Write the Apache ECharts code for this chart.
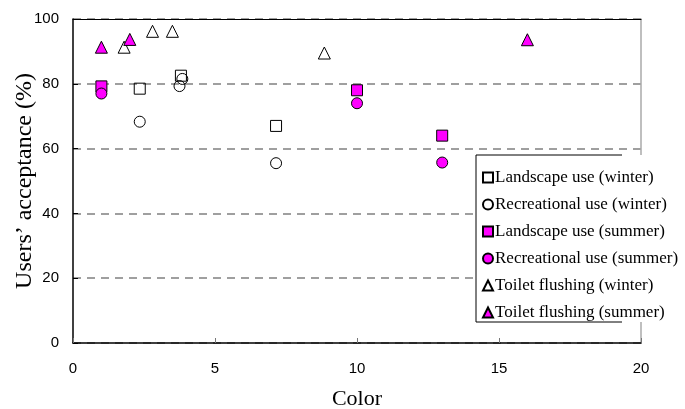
<!DOCTYPE html>
<html>
<head>
<meta charset="utf-8">
<script src="https://cdn.jsdelivr.net/npm/echarts@6/dist/echarts.min.js"></script>
<style>
  html, body { margin: 0; padding: 0; background: #fff; }
  #chart { width: 685px; height: 409px; }
</style>
</head>
<body>
<div id="chart"></div>
<script>
// Users' acceptance (%) against color, per reuse type and season
const landscapeWinter    = [[2.35, 78.5], [3.8, 82.5], [7.15, 67]];
const recreationalWinter = [[2.35, 68.3], [3.85, 81.5], [3.75, 79.3], [7.15, 55.5]];
const landscapeSummer    = [[1.0, 79.2], [10.0, 78.0], [13.0, 64.0]];
const recreationalSummer = [[1.0, 77.0], [10.0, 74.0], [13.0, 55.7]];
const toiletWinter       = [[1.8, 91.3], [2.8, 96.2], [3.5, 96.2], [8.85, 89.5]];
const toiletSummer       = [[1.0, 91.3], [2.0, 93.7], [16.0, 93.6]];

const xTicks = [0, 5, 10, 15, 20];
const yTicks = [0, 20, 40, 60, 80, 100];

const MAGENTA = '#ff00ff';
const serif = '"Liberation Serif", "Times New Roman", serif';
const sans = '"Liberation Sans", Arial, sans-serif';

function series(name, data, symbol, size, fill) {
  return {
    name, type: 'scatter', data, symbol, symbolSize: size,
    itemStyle: { color: fill, borderColor: '#000', borderWidth: 1, opacity: 1 },
    emphasis: { disabled: true }
  };
}

const chart = echarts.init(document.getElementById('chart'), null, { renderer: 'canvas' });
chart.setOption({
  animation: false,
  backgroundColor: '#fff',
  grid: { left: 73, right: 44, top: 19, bottom: 66, containLabel: false, outerBoundsMode: 'none' },
  xAxis: [{
    type: 'value', min: xTicks[0], max: xTicks[xTicks.length - 1], interval: 5,
    name: 'Color', nameLocation: 'middle', nameGap: 45, nameMoveOverlap: false,
    nameTextStyle: { fontFamily: serif, fontSize: 22, color: '#000' },
    axisLine: { lineStyle: { color: '#000', width: 1.5 } },
    axisTick: { inside: true, length: 5, lineStyle: { color: '#777' } },
    axisLabel: { fontFamily: sans, fontSize: 15, color: '#000', margin: 18 },
    splitLine: { show: false }
  }, {
    type: 'value', position: 'top', min: 0, max: 20,
    axisLine: { show: true, onZero: false, lineStyle: { color: '#000', width: 1 } },
    axisTick: { show: false }, axisLabel: { show: false }, splitLine: { show: false }
  }],
  yAxis: [{
    type: 'value', min: yTicks[0], max: yTicks[yTicks.length - 1], interval: 20,
    name: 'Users\u2019 acceptance (%)', nameLocation: 'middle', nameGap: 36, nameMoveOverlap: false,
    nameTextStyle: { fontFamily: serif, fontSize: 24, color: '#000' },
    axisLine: { show: true, lineStyle: { color: '#000', width: 1.5 } },
    axisTick: { show: true, inside: true, length: 5, lineStyle: { color: '#000' } },
    axisLabel: { fontFamily: sans, fontSize: 15, color: '#000', margin: 14 },
    splitLine: { show: true, lineStyle: { color: '#808080', type: [8, 6], width: 1.5 } }
  }, {
    type: 'value', position: 'right', min: 0, max: 100,
    axisLine: { show: true, onZero: false, lineStyle: { color: '#aaa', width: 1.5 } },
    axisTick: { show: false }, axisLabel: { show: false }, splitLine: { show: false }
  }],
  legend: {
    orient: 'vertical', left: 477, top: 164, z: 10,
    itemWidth: 10, itemHeight: 10, itemGap: 10,
    textStyle: { fontFamily: serif, fontSize: 17, color: '#000', padding: [0, 0, 0, -3] },
    data: [
      'Landscape use (winter)', 'Recreational use (winter)',
      'Landscape use (summer)', 'Recreational use (summer)',
      'Toilet flushing (winter)', 'Toilet flushing (summer)'
    ]
  },
  graphic: [{
    type: 'rect', z: 5, silent: true,
    shape: { x: 476, y: 155, width: 209, height: 167 },
    style: { fill: '#fff', stroke: null }
  }, {
    type: 'polyline', z: 6, silent: true,
    shape: { points: [[622, 155], [476, 155], [476, 322], [622, 322]] },
    style: { stroke: '#000', lineWidth: 1, fill: null }
  }],
  series: [
    series('Landscape use (winter)', landscapeWinter, 'rect', 11, 'rgba(255,255,255,0)'),
    series('Recreational use (winter)', recreationalWinter, 'circle', 11, 'rgba(255,255,255,0)'),
    series('Landscape use (summer)', landscapeSummer, 'rect', 11, MAGENTA),
    series('Recreational use (summer)', recreationalSummer, 'circle', 11, MAGENTA),
    series('Toilet flushing (winter)', toiletWinter, 'triangle', 12, 'rgba(255,255,255,0)'),
    series('Toilet flushing (summer)', toiletSummer, 'triangle', 12, MAGENTA)
  ]
});
</script>
</body>
</html>
